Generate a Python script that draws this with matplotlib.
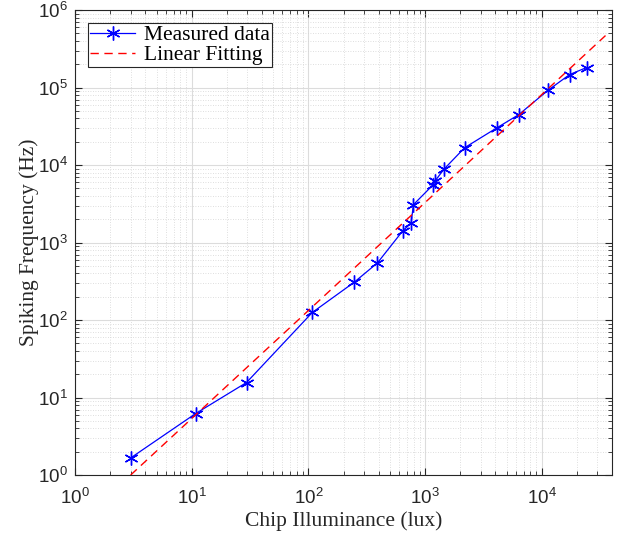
import matplotlib
matplotlib.use('Agg')
import matplotlib.pyplot as plt
from matplotlib.ticker import LogLocator, NullFormatter

# measured points (lux, Hz)
illum = [3.0, 10.8, 29.5, 108, 247, 391, 645, 759, 795, 1178, 1225, 1454,
         2183, 4100, 6360, 11250, 17350, 24250]
freq = [1.66, 6.2, 15.6, 125, 307, 546, 1418, 1783, 3078, 5594, 6300, 8850,
        16700, 30000, 44700, 91500, 147000, 181000]

# linear fit in log-log space, end points
fit_x = [3.0, 35200]
fit_y = [1.0, 4.68e5]

serif = ['Liberation Serif', 'DejaVu Serif']
sans = ['Liberation Sans', 'DejaVu Sans']

fig = plt.figure(figsize=(6.23, 5.39), dpi=100)
ax = fig.add_axes([75 / 623, 1 - 475 / 539, 537 / 623, 465 / 539])

ax.plot(illum, freq, color='blue', lw=0.9, marker=(6, 2, 0), ms=10, mew=1.0,
        label='Measured data')
ax.plot(fit_x, fit_y, color='red', lw=1.0, ls=(0, (6, 4)), label='Linear Fitting')

ax.set_xscale('log')
ax.set_yscale('log')
ax.set_xlim(1, 4e4)
ax.set_ylim(1, 1e6)

ax.xaxis.set_major_locator(LogLocator(base=10, numticks=10))
ax.yaxis.set_major_locator(LogLocator(base=10, numticks=10))
ax.xaxis.set_minor_locator(LogLocator(base=10, subs=range(2, 10), numticks=20))
ax.yaxis.set_minor_locator(LogLocator(base=10, subs=range(2, 10), numticks=20))
ax.xaxis.set_minor_formatter(NullFormatter())
ax.yaxis.set_minor_formatter(NullFormatter())

ax.grid(which='major', color='#dcdcdc', lw=0.8, ls='-')
ax.grid(which='minor', color='#d4d4d4', lw=0.6, ls=(0, (1, 2)))
ax.set_axisbelow(True)

ax.tick_params(which='both', direction='in', top=True, right=True, color='#262626')
ax.tick_params(which='major', length=5, labelsize=13.5)
ax.tick_params(axis='x', which='major', pad=9)
ax.tick_params(axis='y', which='major', pad=5)
ax.tick_params(which='minor', length=3)
for lab in ax.get_xticklabels() + ax.get_yticklabels():
    lab.set_family(sans)
    lab.set_color('#262626')
for s in ax.spines.values():
    s.set_color('#262626')
    s.set_linewidth(0.8)

ax.set_xlabel('Chip Illuminance (lux)', family=serif, fontsize=15.5, color='#262626')
ax.set_ylabel('Spiking Frequency (Hz)', family=serif, fontsize=15.5, color='#262626')
ax.xaxis.set_label_coords(0.5, -0.078)
ax.yaxis.set_label_coords(-0.067, 0.5)

leg = ax.legend(loc='upper left', prop={'family': serif, 'size': 15.5},
                fancybox=False, framealpha=1, edgecolor='#262626',
                borderpad=0.1, labelspacing=0.0, handlelength=2.1,
                handletextpad=0.4, borderaxespad=0.6)
leg.get_frame().set_linewidth(0.8)

fig.savefig('out.png', dpi=100)
